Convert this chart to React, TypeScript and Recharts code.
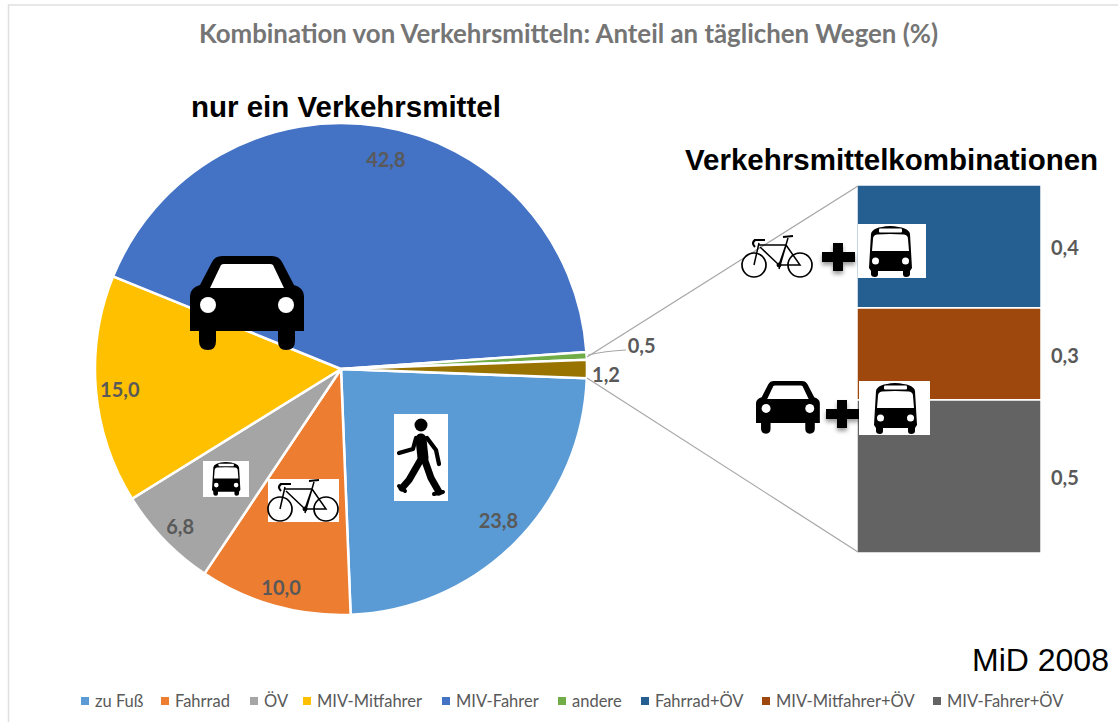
import { Bar, BarChart, Cell, LabelList, Pie, PieChart, XAxis, YAxis } from 'recharts'

const pieNames = ['zu Fuß', 'Fahrrad', 'ÖV', 'MIV-Mitfahrer', 'MIV-Fahrer', 'andere', 'Kombinationen']
const pieValues = [23.8, 10.0, 6.8, 15.0, 42.8, 0.5, 1.2]
const pieColors = ['#5b9bd5', '#ed7d31', '#a5a5a5', '#ffc000', '#4472c4', '#70ad47', '#997300']

const comboNames = ['MIV-Fahrer+ÖV', 'MIV-Mitfahrer+ÖV', 'Fahrrad+ÖV']
const comboValues = [0.5, 0.3, 0.4]
const comboColors = ['#636363', '#9e480e', '#255e91']

const legendNames = ['zu Fuß', 'Fahrrad', 'ÖV', 'MIV-Mitfahrer', 'MIV-Fahrer', 'andere', 'Fahrrad+ÖV', 'MIV-Mitfahrer+ÖV', 'MIV-Fahrer+ÖV']
const legendColors = ['#5b9bd5', '#ed7d31', '#a5a5a5', '#ffc000', '#4472c4', '#70ad47', '#255e91', '#9e480e', '#636363']
const legendLefts = [81, 161, 250, 303, 442, 558, 641, 762, 933]

const pieData = pieNames.map((name, i) => ({ name, value: pieValues[i] }))
const comboData = [
  Object.fromEntries([['name', 'Kombinationen'], ...comboNames.map((n, i) => [n, comboValues[i]])]),
]

const LABEL_FONT = 'Lato, sans-serif'
const fmt = (v: number) => v.toFixed(1).replace('.', ',')

// small hand offsets so the labels land where the original put them
const labelNudge = [[1, -5], [0, 5], [-2, 3], [-1, 1], [10, 8], [-1, -8], [-1, 5]]

function renderPieLabel(props: any) {
  const { cx, cy, midAngle, outerRadius, index, value } = props
  const rad = (-midAngle * Math.PI) / 180
  // the two small slices get their labels outside the pie
  const r = index === 5 ? outerRadius + 56 : index === 6 ? outerRadius + 20 : outerRadius - 25
  return (
    <text
      x={cx + r * Math.cos(rad) + labelNudge[index][0]}
      y={cy + r * Math.sin(rad) + labelNudge[index][1]}
      fill="#595959"
      fontFamily={LABEL_FONT}
      fontSize={20}
      fontWeight={700}
      textAnchor="middle"
      dominantBaseline="central"
    >
      {fmt(value)}
    </text>
  )
}

function Car({ x, y, s = 1 }: { x: number; y: number; s?: number }) {
  return (
    <g transform={`translate(${x} ${y}) scale(${s})`}>
      <path d="M0 40 Q0 32 10 29 L22 6 Q25 0 32 0 L82 0 Q89 0 92 6 L104 29 Q114 32 114 40 L114 75 L105 75 L105 85 Q105 94 96 94 Q88 94 88 85 L88 75 L26 75 L26 85 Q26 94 18 94 Q9 94 9 85 L9 75 L0 75 Z" fill="#000" />
      <path d="M20 32 L31 9 Q32 8 34 8 L80 8 Q82 8 83 9 L94 32 Z" fill="#fff" />
      <circle cx={18} cy={49} r={8} fill="#fff" />
      <circle cx={96} cy={49} r={8} fill="#fff" />
    </g>
  )
}

function BusIcon({ x, y, s = 1 }: { x: number; y: number; s?: number }) {
  return (
    <g transform={`translate(${x} ${y}) scale(${s})`}>
      <path d="M2 8 Q3 1 21 0 Q40 1 41 8 L43 42 L41 45 L41 48 Q41 51 37 51 Q34 51 34 48 L34 45 L9 45 L9 48 Q9 51 6 51 Q2 51 2 48 L2 45 L0 42 Z" fill="#000" />
      <rect x={10} y={2.5} width={23} height={4} rx={1} fill="#fff" />
      <path d="M8 8.5 Q21 7.5 35 8.5 Q39 9 39 13 L40 25 L3 25 L4 13 Q4 9 8 8.5 Z" fill="#fff" />
      <circle cx={6.5} cy={35} r={3.5} fill="#fff" />
      <circle cx={36.5} cy={35} r={3.5} fill="#fff" />
    </g>
  )
}

function Bike({ x, y }: { x: number; y: number }) {
  return (
    <g transform={`translate(${x} ${y})`} fill="none" stroke="#000">
      <circle cx={13} cy={30} r={12} strokeWidth={1.7} />
      <circle cx={59} cy={30} r={12} strokeWidth={1.7} />
      <path d="M18 10 L45 10 M19 12 L38 30 L45 10 L59 30 L38 30 M18 8 L13 30 M47 3 L38 34" strokeWidth={1.5} />
      <path d="M42 2 L52 1 M24 5 L14 5 Q10 8 14 12" strokeWidth={2.2} />
      <circle cx={38} cy={30} r={2} fill="#000" />
    </g>
  )
}

function Walker({ x, y }: { x: number; y: number }) {
  return (
    <g transform={`translate(${x} ${y})`}>
      <rect width={54} height={87} fill="#fff" />
      <circle cx={27} cy={11} r={6.5} fill="#000" />
      <g fill="none" stroke="#000" strokeLinecap="round" strokeLinejoin="round">
        <path d="M27 25 L29 44" strokeWidth={11} />
        <path d="M22 24 L19 35 L5 39 M33 24 L42 36 L45 50" strokeWidth={4.2} />
        <path d="M26 47 L15 66 L8 74" strokeWidth={7} />
        <path d="M31 47 L37 64 L45 78" strokeWidth={7} />
        <path d="M5 72 L11 77 M40 80 L49 78" strokeWidth={4} />
      </g>
    </g>
  )
}

function Plus({ x, y }: { x: number; y: number }) {
  return (
    <path
      transform={`translate(${x} ${y})`}
      d="M11 0 H21 V9 H33 V19 H21 V28 H11 V19 H0 V9 H11 Z"
      fill="#000"
      filter="url(#iconShadow)"
    />
  )
}

export default function App() {
  return (
    <div style={{ position: 'absolute', left: 0, top: 0, width: 1118, height: 722, background: '#fff', overflow: 'hidden' }}>
      <div style={{ position: 'absolute', left: 0, top: 0 }}>
        <PieChart width={1118} height={722} margin={{ top: 0, right: 0, bottom: 0, left: 0 }}>
          <Pie
            data={pieData}
            dataKey="value"
            nameKey="name"
            cx={341}
            cy={369}
            outerRadius={246}
            startAngle={-2.16}
            endAngle={-362.16}
            stroke="#fff"
            strokeWidth={2.5}
            label={renderPieLabel}
            labelLine={false}
            isAnimationActive={false}
          >
            {pieData.map((d, i) => (
              <Cell key={d.name} fill={pieColors[i]} />
            ))}
          </Pie>
        </PieChart>
      </div>

      <div style={{ position: 'absolute', left: 857, top: 185 }}>
        <BarChart width={244} height={368} data={comboData} margin={{ top: 0, right: 60, bottom: 0, left: 0 }} barCategoryGap={0}>
          <XAxis dataKey="name" hide />
          <YAxis hide domain={[0, 1.2]} />
          {comboNames.map((n, i) => (
            <Bar key={n} dataKey={n} stackId="combo" fill={comboColors[i]} stroke="#fff" strokeWidth={1.5} isAnimationActive={false}>
              <LabelList
                dataKey={n}
                position="right"
                offset={10}
                dy={2}
                formatter={(v: number) => fmt(v)}
                fill="#595959"
                fontFamily={LABEL_FONT}
                fontSize={20}
                fontWeight={700}
              />
            </Bar>
          ))}
        </BarChart>
      </div>

      <svg width={1118} height={722} style={{ position: 'absolute', left: 0, top: 0, pointerEvents: 'none' }}>
        <defs>
          <filter id="iconShadow" x="-30%" y="-30%" width="160%" height="170%">
            <feDropShadow dx={0} dy={3} stdDeviation={2} floodColor="#000" floodOpacity={0.4} />
          </filter>
        </defs>

        <path d="M1118 5 H8.5 V722" fill="none" stroke="#e0e0e0" strokeWidth={1.5} />
        <line x1={587} y1={357} x2={858} y2={186} stroke="#a6a6a6" strokeWidth={1.2} />
        <line x1={587} y1={378} x2={858} y2={552} stroke="#a6a6a6" strokeWidth={1.2} />
        <path d="M588 355 Q605 351 626 350" fill="none" stroke="#a6a6a6" strokeWidth={1.2} />

        <text x={568.5} y={43} textAnchor="middle" fontFamily={LABEL_FONT} fontWeight={700} fontSize={25.85} fill="#757575">
          Kombination von Verkehrsmitteln: Anteil an täglichen Wegen (%)
        </text>
        <text x={191} y={117} fontFamily="Liberation Sans, sans-serif" fontWeight={700} fontSize={29.5} fill="#000">
          nur ein Verkehrsmittel
        </text>
        <text x={685} y={170} fontFamily="Liberation Sans, sans-serif" fontWeight={700} fontSize={29.5} fill="#000">
          Verkehrsmittelkombinationen
        </text>
        <text x={972} y={671} fontFamily="Liberation Sans, sans-serif" fontSize={32} fill="#000">
          MiD 2008
        </text>

        <Car x={190} y={256} />
        <Walker x={394} y={414} />

        <rect x={203} y={461} width={46} height={36} fill="#fff" />
        <BusIcon x={212} y={462} s={0.66} />

        <rect x={268} y={479} width={71} height={43} fill="#fff" />
        <Bike x={267} y={479} />

        <Bike x={741} y={235} />
        <Plus x={822} y={243} />
        <rect x={858} y={224} width={68} height={54} fill="#fff" />
        <BusIcon x={869} y={226} />

        <Car x={756} y={381} s={0.56} />
        <Plus x={826} y={400} />
        <rect x={859} y={381} width={71} height={54} fill="#fff" />
        <BusIcon x={874} y={383} />
      </svg>

      {legendNames.map((n, i) => (
        <div
          key={n}
          style={{ position: 'absolute', left: legendLefts[i], top: 691, height: 20, display: 'flex', alignItems: 'center', fontFamily: LABEL_FONT, fontSize: 16.5, color: '#595959', whiteSpace: 'nowrap' }}
        >
          <span style={{ display: 'inline-block', width: 8, height: 8, background: legendColors[i], marginRight: 6 }} />
          {n}
        </div>
      ))}
    </div>
  )
}
